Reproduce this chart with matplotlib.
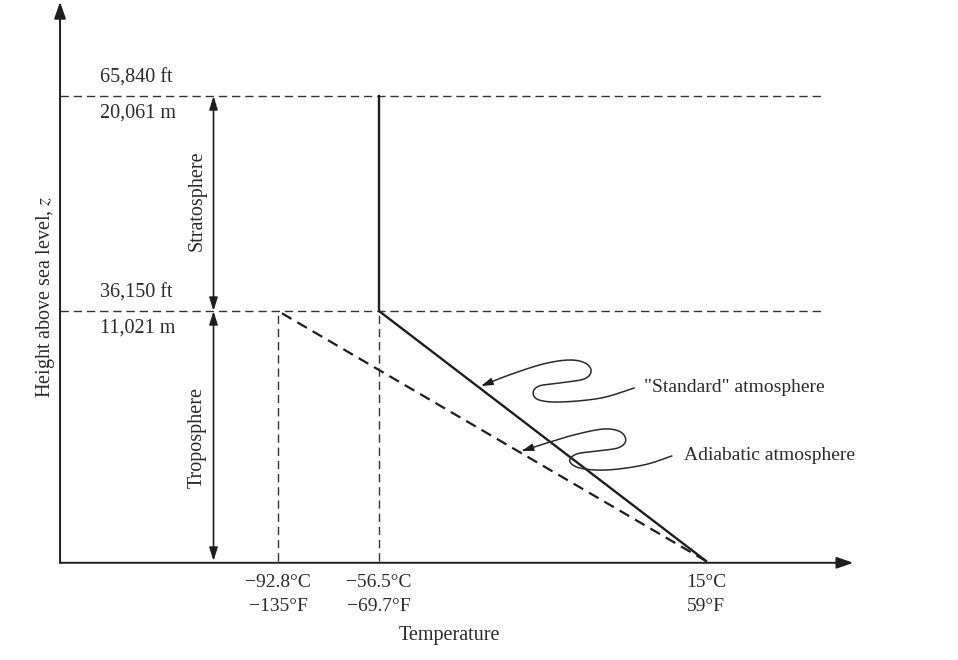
import numpy as np
import matplotlib.pyplot as plt
from matplotlib.scale import FuncScale

plt.rcParams['font.family'] = ['Liberation Serif', 'DejaVu Serif']
plt.rcParams['mathtext.fontset'] = 'stix'

# temperatures (deg C) and their labels
temps_c = [-92.8, -56.5, 15.0]
temp_labels = ["\u221292.8\u00b0C\n\u2212135\u00b0F", "\u221256.5\u00b0C\n\u221269.7\u00b0F", "15\u00b0C\n59\u00b0F"]
# heights (m) of the layer boundaries
heights_m = [0, 11021, 20061]
height_labels = [("36,150 ft", "11,021 m"), ("65,840 ft", "20,061 m")]

# standard atmosphere: 15C at sea level -> -56.5C at tropopause -> isothermal
std_t = [15.0, -56.5, -56.5]
std_h = [0, 11021, 20061]
# adiabatic atmosphere
adi_t = [15.0, -92.8]
adi_h = [0, 11021]

W, H = 958, 660
fig = plt.figure(figsize=(W / 100, H / 100), dpi=100)
ax = fig.add_axes([0, 0, 1, 1])
ax.set_axis_off()

# the drawing is not to scale: piecewise-linear mapping to the page
xt = [-192.8, -92.8, -56.5, 15.0, 70.1]
xp = [0, 278, 379, 706, 958]
yh = [-4426, 0, 11021, 20061, 24098]
yp = [0, 99, 349, 564, 660]
ax.set_xscale(FuncScale(ax.xaxis, (lambda t: np.interp(t, xt, xp), lambda p: np.interp(p, xp, xt))))
ax.set_yscale(FuncScale(ax.yaxis, (lambda h: np.interp(h, yh, yp), lambda p: np.interp(p, yp, yh))))
ax.set_xlim(xt[0], xt[-1])
ax.set_ylim(yh[0], yh[-1])

ink = '#1e1e1e'
txt = '#2a2a2a'
fs = 14.5
x_axis_t = -171.2  # where the vertical axis sits
x_end = 47.2
x_dash_end = 40.4

def px2data(pts):
    return ax.transData.inverted().transform(pts)

def data2px(pts):
    return ax.transData.transform(pts)

# axes with arrow heads
ax.annotate('', xy=(x_axis_t, yh[-1] - 80), xytext=(x_axis_t, -80),
            arrowprops=dict(arrowstyle='-|>,head_length=1.0,head_width=0.35', color=ink, lw=1.4, shrinkA=0, shrinkB=0))
ax.annotate('', xy=(x_end, -80), xytext=(x_axis_t, -80),
            arrowprops=dict(arrowstyle='-|>,head_length=1.0,head_width=0.35', color=ink, lw=1.4, shrinkA=0, shrinkB=0))

# layer boundary dashed lines and labels
for h, (ft, m) in zip(heights_m[1:], height_labels):
    ax.plot([x_axis_t, x_dash_end], [h, h], color='#333333', lw=1.0, dashes=(6, 3.5))
    ax.annotate(ft, xy=(-157, h), xytext=(0, 13), textcoords='offset points',
                fontsize=fs, color=txt, va='center', ha='left')
    ax.annotate(m, xy=(-157, h), xytext=(0, -12.5), textcoords='offset points',
                fontsize=fs, color=txt, va='center', ha='left')

# layer extent arrows
x_arr = -116.0
arrow_kw = dict(arrowstyle='<|-|>,head_length=0.8,head_width=0.25', color=ink, lw=1.2, shrinkA=0, shrinkB=0)
ax.annotate('', xy=(x_arr, heights_m[2]), xytext=(x_arr, heights_m[1]), arrowprops=arrow_kw)
ax.annotate('', xy=(x_arr, heights_m[1]), xytext=(x_arr, heights_m[0]), arrowprops=arrow_kw)
ax.text(x_arr - 5.8, 15640, 'Stratosphere', rotation=90,
        ha='center', va='center', fontsize=fs, color=txt)
ax.text(x_arr - 5.8, 5450, 'Troposphere', rotation=90,
        ha='center', va='center', fontsize=fs, color=txt)

# profiles
ax.plot(std_t, std_h, color=ink, lw=1.7, solid_joinstyle='miter')
ax.plot(adi_t, adi_h, color=ink, lw=1.6, dashes=(5, 3))
for t in temps_c[:2]:
    ax.plot([t, t], [0, 11021], color='#333333', lw=1.0, dashes=(6, 3.5))

# temperature labels
for t, lab in zip(temps_c, temp_labels):
    ax.text(t, -560, lab, ha='center', va='top', fontsize=fs - 0.5, color=txt, linespacing=1.55)
ax.text(-41, -3330, 'Temperature', ha='center', va='center', fontsize=fs, color=txt)
ax.text(-176.5, 11600, 'Height above sea level, $z$', rotation=90, ha='center', va='center',
        fontsize=fs, color=txt)

# squiggle pointers
def catmull(pts, n=20):
    pts = np.asarray(pts, float)
    pts = np.vstack([pts[0], pts, pts[-1]])
    out = []
    for i in range(1, len(pts) - 2):
        p0, p1, p2, p3 = pts[i - 1], pts[i], pts[i + 1], pts[i + 2]
        for s in np.linspace(0, 1, n, endpoint=False):
            out.append(0.5 * ((2 * p1) + (-p0 + p2) * s + (2 * p0 - 5 * p1 + 4 * p2 - p3) * s ** 2
                              + (-p0 + 3 * p1 - 3 * p2 + p3) * s ** 3))
    out.append(pts[-2])
    return np.array(out)

def tip_on(line_t, line_h, frac):
    a, b = data2px([(line_t[1], line_h[1]), (line_t[0], line_h[0])])
    return a + (b - a) * frac

std_offsets = [(0, 0), (28, 11), (62, 22), (88, 26), (104, 23), (110, 15), (103, 7), (78, 3),
               (58, 0), (52, -7), (58, -14), (80, -16), (120, -12), (153, -2)]
adi_offsets = [(0, 0), (22, 7), (52, 16), (82, 22), (99, 19), (104, 10), (96, 3), (75, 0),
               (55, -3), (48, -10), (58, -17), (85, -19), (122, -14), (150, -5)]

for line_t, line_h, frac, offs, label, lx in [
        (std_t[:2], std_h[:2], 0.30, std_offsets, '"Standard" atmosphere', 644),
        (adi_t, adi_h, 0.56, adi_offsets, 'Adiabatic atmosphere', 684)]:
    tip = tip_on(line_t, line_h, frac) + np.array([4, 0])
    curve = catmull(tip + np.array(offs, float))
    cd = px2data(curve)
    ax.plot(cd[3:, 0], cd[3:, 1], color='#2a2a2a', lw=1.1)
    ax.annotate('', xy=cd[0], xytext=cd[4],
                arrowprops=dict(arrowstyle='-|>,head_length=0.7,head_width=0.22', color=ink, lw=1.0,
                                shrinkA=0, shrinkB=0))
    end = curve[-1]
    ld = px2data([(lx, end[1] + 1)])[0]
    ax.text(ld[0], ld[1], label, ha='left', va='center', fontsize=fs - 0.5, color=txt)

fig.savefig('out.png', dpi=100, facecolor='white')
